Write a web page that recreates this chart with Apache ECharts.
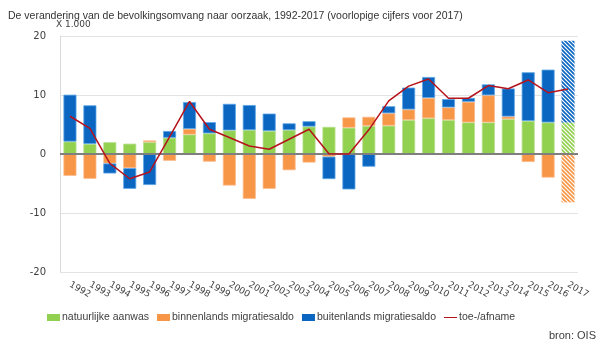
<!DOCTYPE html>
<html><head><meta charset="utf-8">
<script src="https://cdn.jsdelivr.net/npm/echarts@6/dist/echarts.min.js"></script>
<style>html,body{margin:0;padding:0;background:#fff}#c{width:600px;height:343px}</style>
</head><body><div id="c"></div>
<script>
var years = ['1992','1993','1994','1995','1996','1997','1998','1999','2000','2001','2002','2003','2004','2005','2006','2007','2008','2009','2010','2011','2012','2013','2014','2015','2016','2017'];
var natuurlijk = [2.1,1.7,2.0,1.75,2.0,2.75,3.3,3.5,4.0,4.05,3.9,4.05,4.65,4.6,4.45,4.75,4.8,5.75,6.05,5.75,5.35,5.35,5.9,5.6,5.35,5.35];
var binnenlands = [-3.7,-4.2,-1.6,-2.4,0.3,-1.15,0.95,-1.3,-5.35,-7.6,-5.9,-2.75,-1.45,-0.45,1.75,1.55,2.1,1.8,3.45,2.15,3.5,4.6,0.45,-1.35,-4.0,-8.2];
var buitenlands = [7.95,6.55,-1.7,-3.5,-5.25,1.15,4.55,1.9,4.5,4.25,2.95,1.15,0.9,-3.8,-6.0,-2.15,1.2,3.7,3.55,1.4,0.65,1.85,4.75,8.25,8.95,13.85];
var toeAfname = [6.4,4.35,-1.6,-4.2,-3.05,2.9,8.9,4.2,2.8,1.35,0.8,2.5,4.2,0.05,0.0,4.1,9.0,11.5,12.7,9.45,9.45,11.6,11.05,12.55,10.4,11.0];
var yTicks = [-20,-10,0,10,20];
var provisionalYear = '2017';

var FONT = '"Liberation Sans","Noto Sans",sans-serif';
var AXFONT = '"DejaVu Sans",Verdana,sans-serif';
var colGreen = '#92d050', colOrange = '#f79646', colBlue = '#0b66c2', colRed = '#b5121b';

function hatch(color){
  var s = 4, cv = document.createElement('canvas');
  cv.width = s; cv.height = s;
  var ctx = cv.getContext('2d');
  ctx.fillStyle = '#ffffff'; ctx.fillRect(0,0,s,s);
  ctx.strokeStyle = color; ctx.lineWidth = 1.6;
  ctx.beginPath();
  ctx.moveTo(-1,-1); ctx.lineTo(s+1,s+1);
  ctx.moveTo(-1,s-1); ctx.lineTo(1,s+1);
  ctx.moveTo(s-1,-1); ctx.lineTo(s+1,1);
  ctx.stroke();
  return {image: cv, repeat: 'repeat'};
}
function build(values, color, border){
  return values.map(function(v,i){
    if (years[i] === provisionalYear) {
      return {value: v, itemStyle: {color: hatch(color), borderWidth: 0}};
    }
    return {value: v, itemStyle: {color: color, borderColor: border, borderWidth: 0.8}};
  });
}

var chart = echarts.init(document.getElementById('c'), null, {renderer:'canvas'});
chart.setOption({
  animation: false,
  backgroundColor: '#fff',
  title: {
    text: 'De verandering van de bevolkingsomvang naar oorzaak, 1992-2017 (voorlopige cijfers voor 2017)',
    left: 3, top: 6,
    textStyle: {fontFamily: FONT, fontSize: 10.5, fontWeight: 'normal', color: '#333'}
  },
  graphic: [
    {type:'text', left: 56, top: 20, style:{text:'X 1.000', font:'9px ' + AXFONT, fill:'#404040'}},
    {type:'text', right: 4, top: 330, style:{text:'bron: OIS', font:'11px ' + FONT, fill:'#404040'}}
  ],
  legend: {
    bottom: 15, left: 42,
    itemWidth: 13, itemHeight: 7, itemGap: 8,
    textStyle: {fontFamily: FONT, fontSize: 10.5, color:'#404040', padding:[0,0,0,-3]},
    data: [
      {name:'natuurlijke aanwas', icon:'rect'},
      {name:'binnenlands migratiesaldo', icon:'rect'},
      {name:'buitenlands migratiesaldo', icon:'rect'},
      {name:'toe-/afname', icon:'path://M0,3 L20,3 L20,4.5 L0,4.5 Z'}
    ]
  },
  grid: {left: 60, right: 22, top: 36, bottom: 71},
  xAxis: {
    type: 'category', data: years,
    axisLine: {show: false, onZero: false},
    axisTick: {show: false},
    axisLabel: {rotate: -30, interval: 0, fontFamily: AXFONT, fontSize: 9, color:'#404040', margin: 12}
  },
  yAxis: {
    type: 'value', min: yTicks[0], max: yTicks[yTicks.length-1], interval: 10,
    axisLine: {show: true, lineStyle:{color:'#d9d9d9'}},
    axisTick: {show: false},
    splitLine: {lineStyle:{color:'#e3e3e3'}},
    axisLabel: {fontFamily: AXFONT, fontSize: 10, color:'#404040', margin: 14}
  },
  series: [
    {name:'natuurlijke aanwas', type:'bar', stack:'s', barWidth: 13, data: build(natuurlijk, colGreen, '#b5e08a'), itemStyle:{color: colGreen},
      markLine: {silent: true, symbol: 'none', label:{show:false}, lineStyle:{color:'#7f7f7f', width: 2, type:'solid'}, data:[{yAxis: 0}]}},
    {name:'binnenlands migratiesaldo', type:'bar', stack:'s', barWidth: 13, data: build(binnenlands, colOrange, '#fbb98a'), itemStyle:{color: colOrange}},
    {name:'buitenlands migratiesaldo', type:'bar', stack:'s', barWidth: 13, data: build(buitenlands, colBlue, '#5aa5e6'), itemStyle:{color: colBlue}},
    {name:'toe-/afname', type:'line', data: toeAfname, symbol:'none', lineStyle:{color: colRed, width: 1.5}, itemStyle:{color: colRed}, z: 5}
  ]
});
</script></body></html>
